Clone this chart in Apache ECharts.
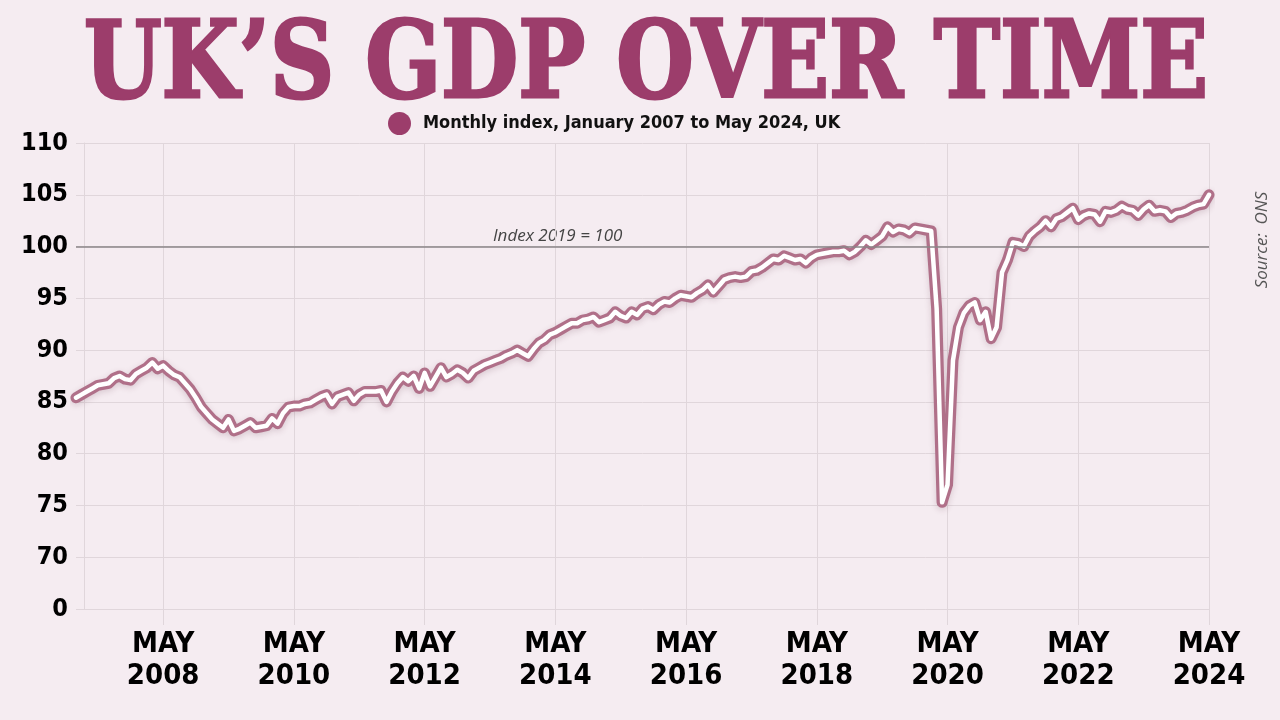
<!DOCTYPE html>
<html>
<head>
<meta charset="utf-8">
<script src="https://cdn.jsdelivr.net/npm/echarts@6/dist/echarts.min.js"></script>
<style>
html,body{margin:0;padding:0;background:#f5ecf1;}
#chart{width:1280px;height:720px;}
</style>
</head>
<body>
<div id="chart"></div>
<script>
// ---- Data: UK monthly GDP index (2019 = 100), Jan 2007 to May 2024 ----
const gdp2007 = [85.4, 85.7, 86.0, 86.3, 86.6, 86.7, 86.8, 87.3, 87.5, 87.2, 87.1, 87.7];
const gdp2008 = [88.0, 88.3, 88.8, 88.2, 88.5, 88.0, 87.6, 87.4, 86.8, 86.2, 85.4, 84.5];
const gdp2009 = [83.9, 83.3, 82.9, 82.5, 83.3, 82.2, 82.4, 82.7, 83.0, 82.5, 82.6, 82.7];
const gdp2010 = [83.4, 82.9, 83.9, 84.5, 84.6, 84.6, 84.8, 84.9, 85.2, 85.5, 85.7, 84.8];
const gdp2011 = [85.5, 85.7, 85.9, 85.1, 85.7, 86.0, 86.0, 86.0, 86.1, 85.0, 86.0, 86.8];
const gdp2012 = [87.4, 87.0, 87.5, 86.3, 87.8, 86.5, 87.4, 88.3, 87.4, 87.7, 88.1, 87.8];
const gdp2013 = [87.3, 88.0, 88.3, 88.6, 88.8, 89.0, 89.2, 89.5, 89.7, 90.0, 89.7, 89.4];
const gdp2014 = [90.1, 90.7, 91.0, 91.5, 91.7, 92.0, 92.3, 92.6, 92.6, 92.9, 93.0, 93.2];
const gdp2015 = [92.7, 92.9, 93.1, 93.7, 93.3, 93.1, 93.7, 93.4, 94.0, 94.2, 93.9, 94.4];
const gdp2016 = [94.7, 94.6, 95.0, 95.3, 95.2, 95.1, 95.5, 95.8, 96.3, 95.6, 96.2, 96.8];
const gdp2017 = [97.0, 97.1, 97.0, 97.1, 97.6, 97.7, 98.0, 98.4, 98.8, 98.7, 99.1, 98.9];
const gdp2018 = [98.7, 98.8, 98.4, 98.9, 99.2, 99.3, 99.4, 99.5, 99.5, 99.6, 99.2, 99.5];
const gdp2019 = [100.0, 100.6, 100.2, 100.6, 101.0, 101.9, 101.4, 101.7, 101.6, 101.3, 101.8, 101.7];
const gdp2020 = [101.6, 101.5, 94.0, 75.3, 77.0, 89.0, 92.2, 93.6, 94.3, 94.6, 92.9, 93.7];
const gdp2021 = [91.1, 92.2, 97.5, 98.7, 100.4, 100.3, 100.0, 101.0, 101.5, 101.9, 102.5, 101.9];
const gdp2022 = [102.7, 102.9, 103.3, 103.7, 102.6, 103.0, 103.2, 103.1, 102.4, 103.4, 103.3, 103.5];
const gdp2023 = [103.9, 103.6, 103.5, 103.0, 103.6, 104.0, 103.4, 103.5, 103.4, 102.8, 103.2, 103.3];
const gdp2024 = [103.5, 103.8, 104.0, 104.1, 105.0];

const startYear = 2007;
const yearlySeries = [gdp2007, gdp2008, gdp2009, gdp2010, gdp2011, gdp2012, gdp2013, gdp2014, gdp2015,
  gdp2016, gdp2017, gdp2018, gdp2019, gdp2020, gdp2021, gdp2022, gdp2023, gdp2024];

const yTickValues = [65, 70, 75, 80, 85, 90, 95, 100, 105, 110];
const yTickLabels = ['0', '70', '75', '80', '85', '90', '95', '100', '105', '110'];
const referenceValue = 100;

const titleText = 'UK\u2019S GDP OVER TIME';
const seriesName = 'Monthly index, January 2007 to May 2024, UK';
const refLabel = 'Index 2019 = 100';
const sourceText = 'Source:  ONS';

// ---- build categories + values ----
const categories = [];
const values = [];
yearlySeries.forEach((arr, yi) => {
  arr.forEach((v, mi) => {
    const y = startYear + yi;
    categories.push(y + '-' + String(mi + 1).padStart(2, '0'));
    values.push(v);
  });
});

function isTick(val) {
  const parts = val.split('-');
  return parts[1] === '05' && (+parts[0]) % 2 === 0;
}

const narrow = "'Liberation Sans Narrow','DejaVu Sans Condensed','Arial Narrow',sans-serif";
const gridCol = '#e0d6db';

// title scaling (fit the reference title width)
const titleFont = "bold 106px 'DejaVu Serif',serif";
const cv = document.createElement('canvas').getContext('2d');
cv.font = titleFont;
const titleW = cv.measureText(titleText).width;
const titleScale = 1124 / titleW;

const chart = echarts.init(document.getElementById('chart'), null, {renderer: 'canvas'});
chart.setOption({
  backgroundColor: '#f5ecf1',
  animation: false,
  grid: {left: 76, right: 71, top: 143, bottom: 111, containLabel: false},
  legend: {
    left: 383, top: 107,
    itemWidth: 23, itemHeight: 23,
    selectedMode: false,
    data: [{name: seriesName, icon: 'circle', itemStyle: {color: '#9c3d6b'}}],
    textStyle: {fontFamily: narrow, fontWeight: 'bold', fontSize: 18, color: '#111', padding: [0, 0, 0, 7]}
  },
  xAxis: {
    type: 'category',
    data: categories,
    boundaryGap: false,
    axisLine: {show: false},
    axisTick: {show: true, length: 16, interval: (i, v) => isTick(v), lineStyle: {color: gridCol, width: 1}},
    splitLine: {show: true, interval: (i, v) => isTick(v), lineStyle: {color: gridCol, width: 1}},
    axisLabel: {
      interval: (i, v) => isTick(v),
      formatter: v => 'MAY\n' + v.split('-')[0],
      fontFamily: narrow, fontWeight: 'bold', fontSize: 29, lineHeight: 32,
      color: '#000', margin: 19
    }
  },
  yAxis: {
    type: 'value',
    min: 65, max: 110, interval: 5,
    offset: -8,
    axisLine: {show: true, lineStyle: {color: gridCol, width: 1}},
    axisTick: {show: false},
    splitLine: {show: true, lineStyle: {color: gridCol, width: 1}},
    axisLabel: {
      formatter: v => yTickLabels[yTickValues.indexOf(v)],
      fontFamily: narrow, fontWeight: 'bold', fontSize: 25,
      color: '#000', margin: 16
    }
  },
  series: [
    {
      name: 'ref', type: 'line', data: [], z: 1, silent: true,
      markLine: {
        silent: true, symbol: 'none', animation: false,
        label: {show: false},
        lineStyle: {color: '#8a8587', width: 1.5, type: 'solid'},
        data: [{yAxis: referenceValue}]
      }
    },
    {
      name: seriesName, type: 'line', data: values, z: 3,
      showSymbol: false, smooth: false,
      color: '#b07089',
      lineStyle: {width: 11, color: '#b07089', join: 'round', cap: 'round',
        shadowBlur: 6, shadowColor: 'rgba(90,40,60,0.18)', shadowOffsetY: 2}
    },
    {
      name: seriesName, type: 'line', data: values, z: 4,
      showSymbol: false, smooth: false,
      lineStyle: {width: 4.5, color: '#ffffff', join: 'round', cap: 'round'}
    }
  ],
  graphic: [
    {
      type: 'text', x: 84, y: 69, scaleX: titleScale, scaleY: 1,
      style: {text: titleText, font: titleFont, fill: '#9c3d6b', stroke: '#9c3d6b', lineWidth: 3,
        textAlign: 'left', textVerticalAlign: 'middle'}
    },
    {
      type: 'text', left: 493, top: 228,
      style: {text: refLabel, font: "italic 17px 'Open Sans',sans-serif", fill: '#444'}
    },
    {
      type: 'text', x: 1262, y: 240, rotation: Math.PI / 2,
      style: {text: sourceText, font: "italic 17px 'Open Sans',sans-serif", fill: '#555', textAlign: 'center', textVerticalAlign: 'middle'}
    }
  ]
});
</script>
</body>
</html>
